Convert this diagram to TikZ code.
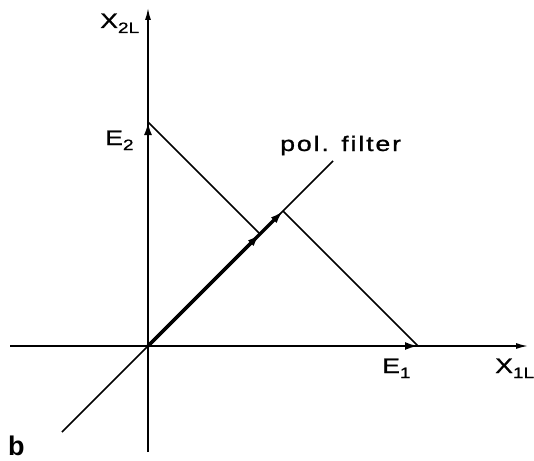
\documentclass[tikz,border=0pt]{standalone}
\usepackage{fontspec}
\setmainfont{Liberation Sans}
\newfontfamily\labfont[FakeStretch=1.27,FakeBold=1]{Liberation Sans}
\newfontfamily\polfont[FakeStretch=1.27,FakeBold=1,LetterSpace=9]{Liberation Sans}
\usetikzlibrary{arrows.meta}
\newcommand{\lsub}[1]{\raisebox{-5pt}{\fontsize{15}{15}\selectfont #1}}
\begin{document}
\begin{tikzpicture}[x=1pt,y=-1pt,
  axis/.style={line width=1.5pt,-{Latex[length=12pt,width=6pt]}},
  thin line/.style={line width=1.5pt},
  vec/.style={line width=3.2pt,-{Latex[length=13pt,width=8pt]}},
  lab/.style={anchor=base west,inner sep=0pt,font=\labfont\fontsize{21}{21}\selectfont}]
\useasboundingbox (0,0) rectangle (534,460);
\coordinate (O) at (148,346);
\coordinate (xl) at (10,346);
\coordinate (xr) at (528,346);
\coordinate (yb) at (148,452);
\coordinate (yt) at (148,8);
\coordinate (E2) at (148,122);
\coordinate (E1) at (418,346);
\coordinate (fl) at (62,432);
\coordinate (fu) at (333,161);
\coordinate (P2) at (260,234);
\coordinate (P1) at (283,211);
% axes
\draw[axis] (xl) -- (xr);
\draw[axis] (yb) -- (yt);
% filter
\draw[thin line] (fl) -- (fu);
% projection lines
\draw[thin line] (E2) -- (P2);
\draw[thin line] (P1) -- (E1);
% vectors
\draw[vec,line width=2.8pt] (O) -- (E2);
\draw[vec,line width=2.2pt] (O) -- (E1);
\draw[vec] (O) -- (P1);
\draw[vec] (O) -- (P2);
% labels
\node[lab] (lx2) at (100,28) {X\lsub{2L}};
\node[lab] (le2) at (105,145) {E\lsub{2}};
\node[lab,font=\polfont\fontsize{21}{21}\selectfont] (lpol) at (280,151) {pol. filter};
\node[lab] (le1) at (382,373) {E\lsub{1}};
\node[lab] (lx1) at (495,373) {X\lsub{1L}};
\node[anchor=base west,inner sep=0pt,font=\fontsize{27}{27}\selectfont\bfseries] (lb) at (8,455) {b};
\end{tikzpicture}
\end{document}
